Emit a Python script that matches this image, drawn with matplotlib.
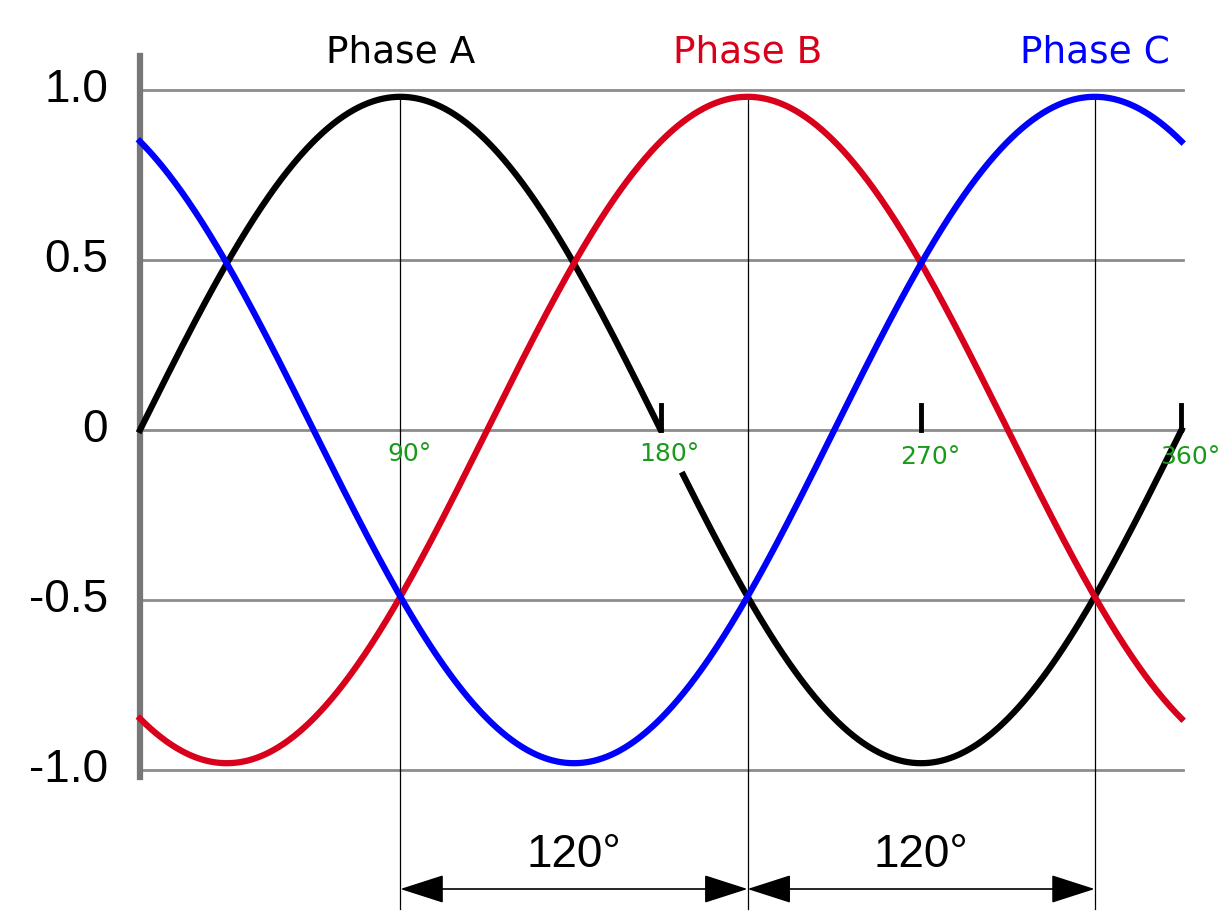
import numpy as np
import matplotlib
matplotlib.use("Agg")
import matplotlib.pyplot as plt

# phases: name, offset in degrees, colour
phase_names = ["Phase A", "Phase B", "Phase C"]
phase_offsets = [0, 120, 240]
phase_colors = ["black", "#d9001b", "#0000ff"]
amplitude = 0.98
ytick_vals = [1.0, 0.5, 0, -0.5, -1.0]
ytick_labels = ["1.0", "0.5", "0", "-0.5", "-1.0"]
deg_ticks = [90, 180, 270, 360]
peak_marks = [90, 210, 330]

PX = 2.893  # pixels per degree
fig = plt.figure(figsize=(12.27, 9.22), dpi=100)
ax = fig.add_axes([0, 0, 1, 1])
ax.set_xlim(-140 / PX, (1227 - 140) / PX)
ax.set_ylim((430 - 922) / 340, 430 / 340)
ax.axis("off")

# grid lines
for v, lab in zip(ytick_vals, ytick_labels):
    ax.plot([0, 360.5], [v, v], color="#8c8c8c", lw=2, zorder=1)
    ax.text(-11, v, lab, ha="right", va="center", fontsize=33,
            family="Liberation Sans")
ax.plot([0, 0], [-1.02, 1.1], color="#777777", lw=4.5, zorder=2)

# vertical reference lines at peaks
for d in peak_marks:
    ax.plot([d, d], [amplitude, -1.41], color="black", lw=0.9, zorder=1)

# curves
x = np.linspace(0, 360, 1000)
for name, off, col in zip(phase_names, phase_offsets, phase_colors):
    y = amplitude * np.sin(np.radians(x - off))
    if off == 0:
        y = np.where((x > 180) & (x < 187.5), np.nan, y)
    ax.plot(x, y, color=col, lw=4.5, zorder=3)
    peak = 90 + off
    ax.text(peak, 1.11, name, color=col, fontsize=27, ha="center", va="center")

# degree tick marks and labels
for d in deg_ticks:
    if d != 90:
        ax.plot([d, d], [0, 0.075], color="black", lw=3.5, zorder=3)
    ax.text(d + 3, -0.07 if d < 270 else -0.08, f"{d}°", color="#1a9a1a",
            fontsize=18, ha="center", va="center")

# 120 degree arrows
for a, b in [(90, 210), (210, 330)]:
    ax.annotate("", xy=(b, -1.35), xytext=(a, -1.35),
                arrowprops=dict(arrowstyle="<|-|>,head_length=2.8,head_width=0.9",
                                color="black", lw=1.2, shrinkA=0, shrinkB=0))
    ax.text((a + b) / 2, -1.25, "120°", fontsize=33, ha="center", va="center",
            family="Liberation Sans")

fig.savefig("out.png", dpi=100)
